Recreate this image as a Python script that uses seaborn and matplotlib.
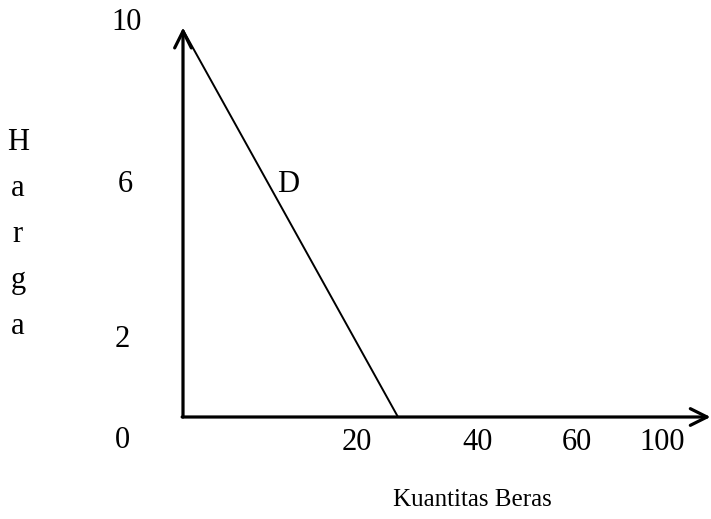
import matplotlib
matplotlib.use("Agg")
import matplotlib.pyplot as plt
import seaborn as sns
import pandas as pd

# data
kuantitas = [0, 25]
harga = [10, 0]
y_labels = ["10", "6", "2", "0"]
x_labels = ["20", "40", "60", "100"]

# layout (data coords where the labels sit)
y_label_pos = [(-6.6, 10.2), (-6.7, 6.0), (-7.1, 2.0), (-7.1, -0.6)]
x_label_pos = [(20.2, -0.67), (34.3, -0.67), (45.8, -0.67), (55.7, -0.67)]

sns.set_style("white")
plt.rcParams['font.family'] = ['Liberation Serif', 'DejaVu Serif']
plt.rcParams['text.color'] = 'black'

fig = plt.figure(figsize=(7.11, 5.19), dpi=100)
ax = fig.add_axes([183 / 711, 102 / 519, 528 / 711, 387 / 519])
ax.set_xlim(0, 61.4)
ax.set_ylim(0, 10)
ax.axis("off")

df = pd.DataFrame({"Kuantitas": kuantitas, "Harga": harga})
sns.lineplot(data=df, x="Kuantitas", y="Harga", color="black", lw=1.4, ax=ax,
             clip_on=False)

# axes with open arrow heads
arrow = dict(arrowstyle="->", lw=2.3, color="black", mutation_scale=30,
             shrinkA=0, shrinkB=0)
ax.annotate("", xy=(0, 10.06), xytext=(0, 0), arrowprops=arrow,
            annotation_clip=False)
ax.annotate("", xy=(61.35, 0), xytext=(-0.1, 0), arrowprops=arrow,
            annotation_clip=False)

for lab, (x, y) in zip(y_labels, y_label_pos):
    ax.text(x, y, lab, fontsize=22, ha="center", va="center", clip_on=False)
for lab, (x, y) in zip(x_labels, x_label_pos):
    ax.text(x, y, lab, fontsize=22, ha="center", va="center", clip_on=False)

ax.text(12.2, 6.0, "D", fontsize=22, ha="center", va="center")
ax.text(-19.2, 4.72, "H\na\nr\ng\na", fontsize=22, ha="center", va="center",
        linespacing=1.78, multialignment="center", clip_on=False)
ax.text(33.7, -2.14, "Kuantitas Beras", fontsize=18, ha="center", va="center",
        clip_on=False)

fig.savefig("out.png", dpi=100)
